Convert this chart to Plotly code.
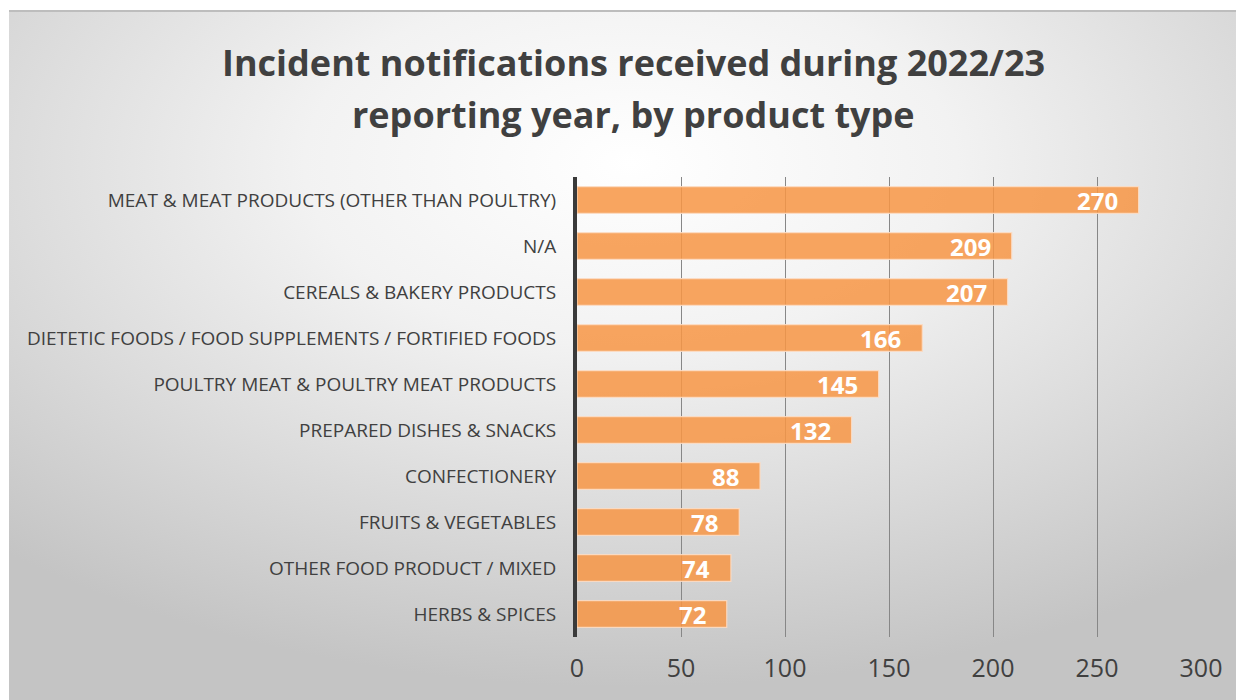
import base64
import plotly.graph_objects as go

categories = [
    "MEAT & MEAT PRODUCTS (OTHER THAN POULTRY)",
    "N/A",
    "CEREALS & BAKERY PRODUCTS",
    "DIETETIC FOODS / FOOD SUPPLEMENTS / FORTIFIED FOODS",
    "POULTRY MEAT & POULTRY MEAT PRODUCTS",
    "PREPARED DISHES & SNACKS",
    "CONFECTIONERY",
    "FRUITS & VEGETABLES",
    "OTHER FOOD PRODUCT / MIXED",
    "HERBS & SPICES",
]
values = [270, 209, 207, 166, 145, 132, 88, 78, 74, 72]
x_ticks = [0, 50, 100, 150, 200, 250, 300]
title_lines = ["Incident notifications received during 2022/23",
               "reporting year, by product type"]

W, H = 1244, 700
FONT = "Open Sans"
TXT = "#404040"

BX, BY = 1, 2
svg = f'''<svg xmlns="http://www.w3.org/2000/svg" width="{W-BX}" height="{H-BY}" viewBox="0 0 {W-BX} {H-BY}" preserveAspectRatio="none">
<defs><radialGradient id="g" cx="50%" cy="22%" r="75%" fx="50%" fy="22%">
<stop offset="0" stop-color="#ffffff"/><stop offset="0.35" stop-color="#f2f2f2"/><stop offset="1" stop-color="#c4c4c4"/>
</radialGradient></defs>
<rect x="0" y="0" width="{W-BX}" height="{H-BY}" fill="url(#g)"/>
<rect x="0" y="0" width="{W-BX}" height="2" fill="#bdbdbd"/>
</svg>'''
bg_uri = "data:image/svg+xml;base64," + base64.b64encode(svg.encode()).decode()

fig = go.Figure()
fig.add_trace(go.Bar(
    x=values, y=categories, orientation="h",
    marker=dict(color="rgba(247,150,70,0.86)",
                line=dict(color="rgba(252,220,195,0.9)", width=1.2)),
    width=0.58, hoverinfo="skip",
))

for v, c in zip(values, categories):
    fig.add_annotation(x=v, y=c, xref="x", yref="y", text=f"<b>{v}</b>",
                       showarrow=False, xanchor="right", yanchor="middle",
                       xshift=-19, yshift=0,
                       font=dict(family=FONT, size=24, color="white"))

title_y = [54, 107]
for line, ty in zip(title_lines, title_y):
    fig.add_annotation(x=625 / W, y=1 - ty / H, xref="paper", yref="paper",
                       text=f"<b>{line}</b>", showarrow=False,
                       xanchor="center", yanchor="middle",
                       font=dict(family=FONT, size=36, color=TXT))

x0, x1 = 569 / W, 1193 / W
y_top, y_bot = 169, 629
fig.update_layout(
    width=W, height=H,
    margin=dict(l=0, r=0, t=0, b=0),
    paper_bgcolor="white", plot_bgcolor="rgba(0,0,0,0)",
    showlegend=False,
    images=[dict(source=bg_uri, xref="paper", yref="paper",
                 x=BX / W, y=1 - BY / H, sizex=(W - BX) / W, sizey=(H - BY) / H,
                 xanchor="left", yanchor="top", sizing="stretch", layer="below")],
    xaxis=dict(domain=[x0, x1], range=[0, 300], tickvals=x_ticks,
               showgrid=True, gridcolor="#878787", gridwidth=1,
               zeroline=False, showline=False,
               ticks="outside", ticklen=9, tickcolor="rgba(0,0,0,0)",
               tickfont=dict(family=FONT, size=25, color=TXT),
               automargin=False, fixedrange=True),
    yaxis=dict(domain=[1 - y_bot / H, 1 - y_top / H],
               categoryorder="array", categoryarray=categories[::-1],
               showgrid=False, zeroline=False,
               showline=True, linecolor="#3a3a3a", linewidth=4,
               ticks="outside", ticklen=13, tickcolor="rgba(0,0,0,0)",
               tickfont=dict(family=FONT, size=19, color=TXT),
               automargin=False, fixedrange=True),
)

fig.write_html("out.html")
